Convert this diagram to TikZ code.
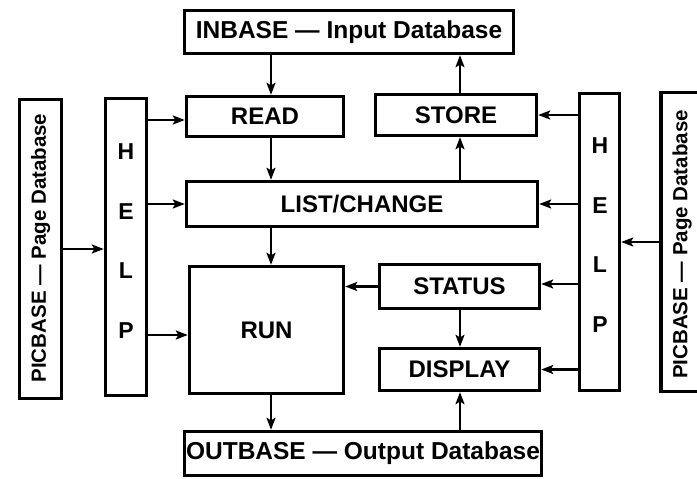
\documentclass[tikz,border=0pt]{standalone}
\usepackage{fontspec}
\setmainfont{Liberation Sans}
\usetikzlibrary{arrows.meta}
\begin{document}
\begin{tikzpicture}[x=1pt,y=-1pt,
  box/.style={draw, line width=3.4pt, inner sep=0pt, fill=white},
  lbl/.style={font=\fontsize{24}{27}\selectfont\bfseries},
  dblbl/.style={font=\fontsize{24.5}{28}\selectfont\bfseries},
  piclbl/.style={font=\fontsize{20.5}{24}\selectfont\bfseries, rotate=90},
  helplbl/.style={font=\fontsize{23}{59.5}\selectfont\bfseries, align=center, inner sep=0pt},
  arr/.style={line width=2.1pt, -{Stealth[length=12pt,width=9pt,inset=2.5pt]}}]
\useasboundingbox (0,0) rectangle (697,479);

% databases
\node[box, dblbl, minimum width=329, minimum height=43] (inbase) at (349,32) {INBASE --- Input Database};
\node[box, dblbl, minimum width=357, minimum height=44] (outbase) at (363,453.5) {OUTBASE --- Output Database};

% function boxes
\node[box, lbl, minimum width=157, minimum height=40] (read) at (265,116.5) {READ};
\node[box, lbl, minimum width=161, minimum height=41] (store) at (456,115) {STORE};
\node[box, lbl, minimum width=351, minimum height=45] (list) at (362,204) {LIST/CHANGE};
\node[box, lbl, minimum width=154, minimum height=127] (run) at (266.5,330) {RUN};
\node[box, lbl, minimum width=160, minimum height=44] (status) at (459.5,286.5) {STATUS};
\node[box, lbl, minimum width=160, minimum height=42] (display) at (459.5,369.5) {DISPLAY};

% help columns
\node[box, minimum width=41, minimum height=297] (lhelp) at (126,247) {};
\node[helplbl] (lhelptext) at (126,241) {H\\E\\L\\P};
\node[box, minimum width=40, minimum height=297] (rhelp) at (599.5,242) {};
\node[helplbl] (rhelptext) at (600,235) {H\\E\\L\\P};

% page databases
\node[box, minimum width=42, minimum height=299] (lpic) at (40.5,249) {};
\node[piclbl] (lpictext) at (40.5,248) {PICBASE --- Page Database};
\node[box, minimum width=42, minimum height=299] (rpic) at (682,242) {};
\node[piclbl] (rpictext) at (682,244.5) {PICBASE --- Page Database};

% columns of the vertical connectors
\coordinate (lx) at (271,0);
\coordinate (rx) at (460,0);

% vertical flow
\draw[arr] (inbase.south -| lx) -- (read.north -| lx);
\draw[arr] (store.north -| rx) -- (inbase.south -| rx);
\draw[arr] (read.south -| lx) -- (list.north -| lx);
\draw[arr] (list.north -| rx) -- (store.south -| rx);
\draw[arr] (list.south -| lx) -- (run.north -| lx);
\draw[arr] (run.south -| lx) -- (outbase.north -| lx);
\draw[arr] (status.south -| rx) -- (display.north -| rx);
\draw[arr] (outbase.north -| rx) -- (display.south -| rx);
\draw[arr] (status.west) -- (run.east |- status.west);

% help connections
\draw[arr] (lpic.east) -- (lhelp.west |- lpic.east);
\draw[arr] ([yshift=-3.5pt]lhelp.east |- read.west) -- ([yshift=-3.5pt]read.west);
\draw[arr] (lhelp.east |- list.west) -- (list.west);
\draw[arr] ([yshift=-5pt]lhelp.east |- run.west) -- ([yshift=-5pt]run.west);
\draw[arr] (rpic.west) -- (rhelp.east |- rpic.west);
\draw[arr] (rhelp.west |- store.east) -- (store.east);
\draw[arr] (rhelp.west |- list.east) -- (list.east);
\draw[arr] ([yshift=2.5pt]rhelp.west |- status.east) -- ([yshift=2.5pt]status.east);
\draw[arr] (rhelp.west |- display.east) -- (display.east);
\end{tikzpicture}
\end{document}
